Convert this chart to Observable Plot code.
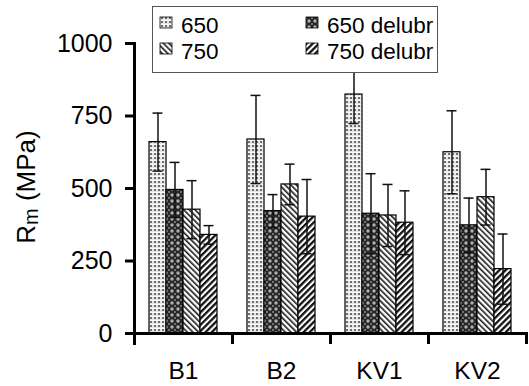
<!DOCTYPE html>
<html><head><meta charset="utf-8">
<script src="https://cdn.jsdelivr.net/npm/d3@7"></script>
<script src="https://cdn.jsdelivr.net/npm/@observablehq/plot@0.6"></script>
<style>
body{margin:0;background:#fff;}
#wrap{position:relative;width:529px;height:386px;font-family:"Liberation Sans",Arial,sans-serif;}
#wrap svg{display:block;}
#legend{position:absolute;left:0;top:0;pointer-events:none;}
</style></head><body>
<div id="wrap"></div>
<script>
// ---- data ----
const categories = ["B1", "B2", "KV1", "KV2"];
const series = ["650", "650 delubr", "750", "750 delubr"];
const values650  = [660, 669, 824, 625];
const errors650  = [100, 152, 100, 143];
const values650d = [495, 422, 413, 373];
const errors650d = [95, 57, 138, 94];
const values750  = [427, 514, 407, 470];
const errors750  = [100, 70, 107, 96];
const values750d = [340, 403, 382, 222];
const errors750d = [32, 128, 110, 121];
const yTicks = [0, 250, 500, 750, 1000];
const yLabel = ["R", "m", " (MPa)"];

const valuesBySeries = [values650, values650d, values750, values750d];
const errorsBySeries = [errors650, errors650d, errors750, errors750d];
const patternKeys = ["p650", "p650d", "p750", "p750d"];

const rows = categories.flatMap((c, i) => series.map((s, j) => ({
  category: c, series: s, value: valuesBySeries[j][i], err: errorsBySeries[j][i]
})));

function patternDefs(prefix) {
  return `
  <pattern id="${prefix}p650" width="4" height="4" patternUnits="userSpaceOnUse">
    <rect width="4" height="4" fill="#e6e6e6"/>
    <rect x="0" y="0" width="4" height="1" fill="#fafafa"/>
    <rect x="1" y="1" width="2" height="2" fill="#6e6e6e"/>
  </pattern>
  <pattern id="${prefix}p650d" width="6" height="6" patternUnits="userSpaceOnUse">
    <rect width="6" height="6" fill="#262626"/>
    <circle cx="3" cy="3" r="1.7" fill="#b0b0b0"/>
    <circle cx="0" cy="0" r="1" fill="#8a8a8a"/>
    <circle cx="6" cy="0" r="1" fill="#8a8a8a"/>
    <circle cx="0" cy="6" r="1" fill="#8a8a8a"/>
    <circle cx="6" cy="6" r="1" fill="#8a8a8a"/>
  </pattern>
  <pattern id="${prefix}p750" width="4" height="4" patternUnits="userSpaceOnUse" patternTransform="rotate(-45)">
    <rect width="4" height="4" fill="#fff"/>
    <rect width="1.6" height="4" fill="#1a1a1a"/>
  </pattern>
  <pattern id="${prefix}p750d" width="4.4" height="4.4" patternUnits="userSpaceOnUse" patternTransform="rotate(45)">
    <rect width="4.4" height="4.4" fill="#fff"/>
    <rect width="2.3" height="4.4" fill="#111"/>
  </pattern>`;
}

const font = "Liberation Sans, Arial, sans-serif";

const chart = Plot.plot({
  width: 529, height: 386,
  marginLeft: 133, marginRight: 2, marginTop: 43, marginBottom: 53,
  style: {fontFamily: font, background: "white", color: "black"},
  fx: {domain: categories, padding: 0, label: null},
  x: {domain: series, paddingInner: 0, paddingOuter: 0.74, axis: null},
  y: {domain: [0, 1000]},
  marks: [
    ...series.map((s, j) => Plot.barY(rows.filter(d => d.series === s), {
      fx: "category", x: "series", y: "value",
      fill: `url(#c${patternKeys[j]})`, stroke: "black", strokeWidth: 1.2
    })),
    Plot.ruleX(rows, {fx: "category", x: "series", y1: d => d.value - d.err, y2: d => d.value + d.err, stroke: "#111", strokeWidth: 1.5}),
    Plot.tickY(rows, {fx: "category", x: "series", y: d => d.value + d.err, insetLeft: 3.5, insetRight: 3.5, stroke: "#111", strokeWidth: 1.5}),
    Plot.tickY(rows, {fx: "category", x: "series", y: d => d.value - d.err, insetLeft: 3.5, insetRight: 3.5, stroke: "#111", strokeWidth: 1.5}),
    Plot.ruleY([0], {stroke: "black", strokeWidth: 3}),
    Plot.frame({anchor: "left", facetAnchor: "left", stroke: "black", strokeWidth: 3, insetBottom: -10}),
    Plot.frame({anchor: "right", stroke: "black", strokeWidth: 3, insetTop: 290, insetBottom: -9}),
    Plot.axisY({ticks: yTicks, tickSize: 9, tickPadding: 13, fontSize: 25, strokeWidth: 3, label: null, tickFormat: d => String(d)}),
    Plot.axisFx({anchor: "bottom", tickSize: 0, tickPadding: 28, fontSize: 24.5, label: null})
  ]
});

const svgNS = "http://www.w3.org/2000/svg";
const defs = document.createElementNS(svgNS, "defs");
defs.innerHTML = patternDefs("c");
chart.insertBefore(defs, chart.firstChild);

// y-axis title with subscript
const yt = d3.select(chart).append("text")
  .attr("transform", "translate(35,187) rotate(-90)")
  .attr("text-anchor", "middle")
  .attr("font-size", 26)
  .attr("font-family", font)
  .attr("fill", "black");
yt.append("tspan").text(yLabel[0]);
yt.append("tspan").attr("font-size", 20).attr("dy", 3).text(yLabel[1]);
yt.append("tspan").attr("dy", -3).text(yLabel[2]);

document.getElementById("wrap").appendChild(chart);

// legend overlay
const leg = d3.select("#wrap").append("svg").attr("id", "legend")
  .attr("width", 529).attr("height", 80);
leg.append("defs").html(patternDefs("l"));
leg.append("rect").attr("x", 152.5).attr("y", 6.5).attr("width", 285).attr("height", 66)
  .attr("fill", "white").attr("stroke", "#555").attr("stroke-width", 1);
const legPos = [[160, 17], [306, 17], [160, 43], [306, 43]];
const legOrder = [0, 1, 2, 3];
legOrder.forEach((j, k) => {
  const [lx, ly] = legPos[k];
  leg.append("rect").attr("x", lx).attr("y", ly).attr("width", 12).attr("height", 11)
    .attr("fill", `url(#l${patternKeys[j]})`).attr("stroke", "black").attr("stroke-width", 0.8);
  leg.append("text").attr("x", lx + 21).attr("y", ly + 16)
    .attr("font-size", 22.5).attr("font-family", font).attr("fill", "black").text(series[j]);
});
</script>
</body></html>
